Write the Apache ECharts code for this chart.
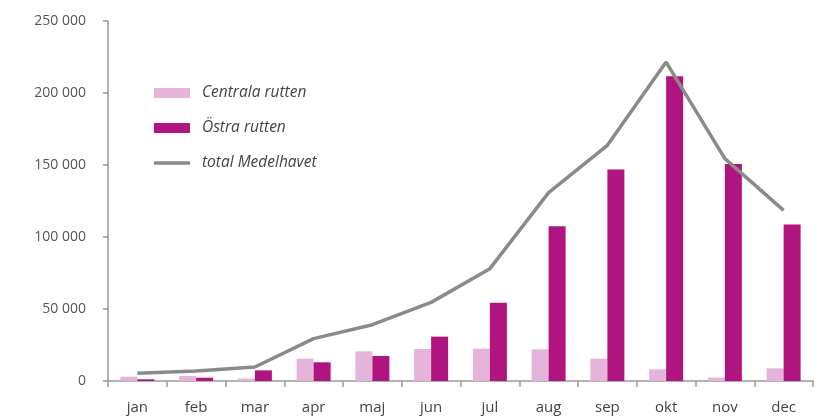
<!DOCTYPE html>
<html><head><meta charset="utf-8">
<script src="https://cdn.jsdelivr.net/npm/echarts@6/dist/echarts.min.js"></script>
<style>html,body{margin:0;padding:0;background:#fff}#c{width:835px;height:420px}</style>
</head><body><div id="c"></div>
<script>
const months = ['jan','feb','mar','apr','maj','jun','jul','aug','sep','okt','nov','dec'];
const centrala = [3000,3500,1700,15500,20600,22200,22500,22000,15500,8100,2400,8800];
const ostra = [1200,2300,7400,13000,17400,30800,54400,107400,146800,211600,150700,108600];
const total = [5300,7000,9700,29400,39100,54600,78000,130800,163700,221500,154400,118500];
const seriesNames = ['Centrala rutten','Östra rutten','total Medelhavet'];

const font = 'Open Sans';
const chart = echarts.init(document.getElementById('c'), null, {renderer:'canvas'});
chart.setOption({
  backgroundColor:'#fff',
  animation:false,
  grid:{left:108,right:22,top:21,bottom:39,containLabel:false},
  legend:{
    orient:'vertical', left:149, top:80,
    itemWidth:36, itemHeight:10, itemGap:19,
    textStyle:{fontFamily:font, fontStyle:'italic', fontSize:15.5, color:'#444', lineHeight:15, padding:[0,0,0,7]},
    data:[
      {name:seriesNames[0], icon:'rect'},
      {name:seriesNames[1], icon:'rect'},
      {name:seriesNames[2], icon:'path://M0,0 L36,0 L36,3.5 L0,3.5 Z', itemStyle:{color:'#8a8a8a'}}
    ]
  },
  xAxis:{
    type:'category', data:months,
    axisLine:{lineStyle:{color:'#9a9a9a',width:1.5}},
    axisTick:{show:true,length:6,lineStyle:{color:'#9a9a9a',width:1.5}},
    axisLabel:{fontFamily:font,fontSize:15,color:'#444',margin:19}
  },
  yAxis:{
    type:'value', min:0, max:250000, interval:50000,
    splitLine:{show:false},
    axisLine:{show:true,lineStyle:{color:'#9a9a9a',width:1.5}},
    axisTick:{show:true,length:5,lineStyle:{color:'#9a9a9a',width:1.5}},
    axisLabel:{fontFamily:font,fontSize:14,color:'#555',margin:22,
      formatter:v=>String(v).replace(/\B(?=(\d{3})+(?!\d))/g,' ')}
  },
  series:[
    {name:seriesNames[0],type:'bar',data:centrala,barWidth:17,barGap:'0%',itemStyle:{color:'#e4b4da'}},
    {name:seriesNames[1],type:'bar',data:ostra,barWidth:17,barGap:'0%',itemStyle:{color:'#b0157f'}},
    {name:seriesNames[2],type:'line',data:total,symbol:'none',showSymbol:false,
      lineStyle:{color:'#8a8a8a',width:3.5},itemStyle:{color:'#8a8a8a'},z:5}
  ]
});
</script></body></html>
